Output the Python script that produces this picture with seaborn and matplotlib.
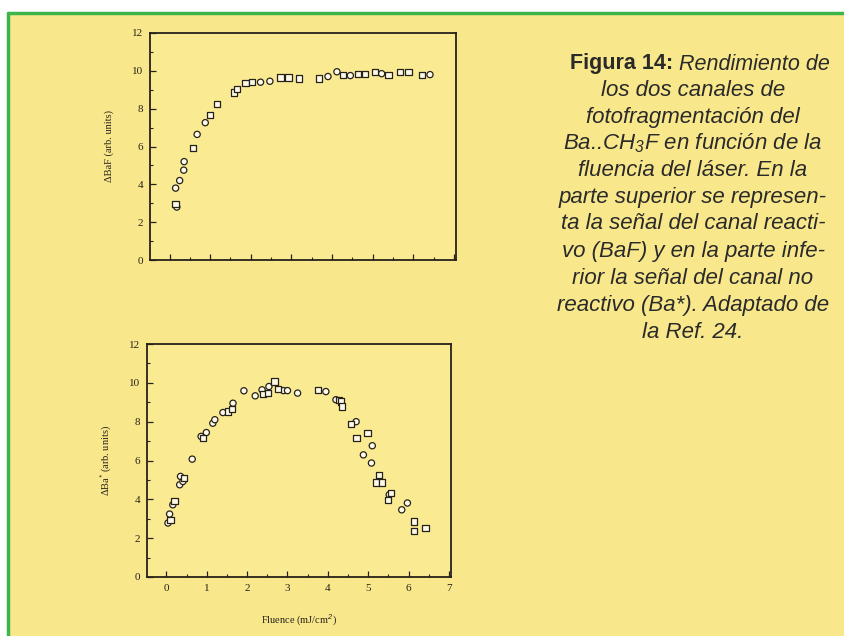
import matplotlib
matplotlib.use("Agg")
import matplotlib.pyplot as plt
import seaborn as sns
import pandas as pd
from matplotlib.patches import Rectangle
from matplotlib.offsetbox import TextArea, HPacker, AnnotationBbox

# ---------------- data ----------------
# Upper panel: reactive channel (BaF)
baf_circle_x = [0.18, 0.15, 0.25, 0.35, 0.36, 0.68, 0.88, 2.24, 2.47, 3.90, 4.12, 4.45, 5.22, 6.41]
baf_circle_y = [2.80, 3.80, 4.20, 4.75, 5.20, 6.64, 7.26, 9.40, 9.45, 9.70, 9.95, 9.75, 9.85, 9.80]
baf_cross_x = [0.15, 0.58, 1.00, 1.17, 1.58, 1.66, 1.87, 2.03, 2.73, 2.93, 3.18, 3.67, 4.27, 4.63, 4.82, 5.06, 5.39, 5.67, 5.88, 6.21]
baf_cross_y = [2.95, 5.90, 7.66, 8.25, 8.85, 9.05, 9.34, 9.40, 9.65, 9.65, 9.60, 9.60, 9.80, 9.85, 9.85, 9.95, 9.80, 9.95, 9.95, 9.80]

# Lower panel: non-reactive channel (Ba*)
ba_circle_x = [0.04, 0.08, 0.16, 0.33, 0.35, 0.41, 0.64, 0.86, 0.99, 1.15, 1.20, 1.40, 1.65, 1.92, 2.20, 2.37, 2.54, 2.90, 3.00, 3.25, 3.95, 4.20, 4.70, 5.10, 4.88, 5.08, 5.52, 5.83, 5.97]
ba_circle_y = [2.78, 3.24, 3.72, 4.75, 5.18, 4.92, 6.07, 7.24, 7.44, 7.92, 8.10, 8.47, 8.95, 9.59, 9.33, 9.64, 9.81, 9.60, 9.60, 9.47, 9.55, 9.13, 8.00, 6.76, 6.29, 5.87, 4.24, 3.46, 3.81]
ba_cross_x = [0.20, 0.10, 0.43, 0.90, 1.52, 1.63, 2.40, 2.51, 2.68, 2.76, 3.75, 4.28, 4.32, 4.35, 4.57, 4.71, 4.98, 5.27, 5.19, 5.34, 5.48, 5.56, 6.14, 6.14, 6.42]
ba_cross_y = [3.90, 2.95, 5.10, 7.15, 8.52, 8.64, 9.43, 9.47, 10.07, 9.67, 9.64, 9.13, 9.04, 8.78, 7.89, 7.15, 7.41, 5.27, 4.87, 4.87, 3.98, 4.32, 2.86, 2.35, 2.52]

x_ticks = [0, 1, 2, 3, 4, 5, 6, 7]
y_ticks = [0, 2, 4, 6, 8, 10, 12]

caption_bold = "Figura 14:"
caption_first = " Rendimiento de"
caption_lines = [
    "los dos canales de",
    "fotofragmentación del",
    r"Ba..CH$_3$F en función de la",
    "fluencia del láser. En la",
    "parte superior se represen-",
    "ta la señal del canal reacti-",
    "vo (BaF) y en la parte infe-",
    "rior la señal del canal no",
    "reactivo (Ba*). Adaptado de",
    "la Ref. 24.",
]

# ---------------- build frames ----------------
def frame(cx, cy, sx, sy):
    return pd.DataFrame({
        "x": list(cx) + list(sx),
        "y": list(cy) + list(sy),
        "kind": ["circle"] * len(cx) + ["cross"] * len(sx),
    })

df_top = frame(baf_circle_x, baf_circle_y, baf_cross_x, baf_cross_y)
df_bot = frame(ba_circle_x, ba_circle_y, ba_cross_x, ba_cross_y)

# ---------------- style ----------------
sns.set_theme(style="ticks")
plt.rcParams["font.family"] = ["Liberation Serif", "DejaVu Serif"]
plt.rcParams["mathtext.fontset"] = "custom"
plt.rcParams["mathtext.it"] = "Liberation Sans:italic"
plt.rcParams["mathtext.rm"] = "Liberation Sans:italic"

YELLOW = "#F9E88B"
AX_YELLOW = "#FAEB92"
GREEN = "#3DB54A"
INK = "#26221A"
TXT = "#2a2a2a"
FS = 16

fig = plt.figure(figsize=(8.44, 6.36), dpi=100, facecolor="white")

# yellow panel with green border
fig.patches.append(Rectangle((8 / 844, 0), 1.0, 1 - 13 / 636, transform=fig.transFigure,
                             facecolor=YELLOW, edgecolor="none", zorder=-5))
fig.lines.append(plt.Line2D([8 / 844, 1.0], [1 - 13 / 636, 1 - 13 / 636], transform=fig.transFigure,
                            color=GREEN, lw=2.5, zorder=-4))
fig.lines.append(plt.Line2D([8 / 844, 8 / 844], [0, 1 - 13 / 636], transform=fig.transFigure,
                            color=GREEN, lw=2.5, zorder=-4))

ax1 = fig.add_axes([150 / 844, 1 - 260 / 636, 306 / 844, 227 / 636], zorder=2)
ax2 = fig.add_axes([147 / 844, 1 - 577 / 636, 304 / 844, 233 / 636], zorder=2)

markers = {"circle": "o", "cross": "s"}
for ax, df in [(ax1, df_top), (ax2, df_bot)]:
    ax.set_facecolor(AX_YELLOW)
    sns.scatterplot(data=df, x="x", y="y", style="kind", markers=markers,
                    color="#FFFBE8", edgecolor=INK, linewidth=0.9, s=20,
                    legend=False, ax=ax, zorder=3)
    ax.set_xlim(-0.48, 7.05)
    ax.set_ylim(0, 12)
    ax.set_xticks(x_ticks)
    ax.set_yticks(y_ticks)
    ax.set_xticks([t + 0.5 for t in x_ticks[:-1]], minor=True)
    ax.set_yticks([t + 1 for t in y_ticks[:-1]], minor=True)
    ax.tick_params(direction="in", length=4, width=0.9, colors=INK, labelsize=8, pad=5)
    ax.tick_params(which="minor", direction="in", length=2, width=0.8, colors=INK)
    for sp in ax.spines.values():
        sp.set_linewidth(1.3)
        sp.set_color(INK)
    ax.set_xlabel("")

ax1.set_xticklabels([])
ax1.set_ylabel("ΔBaF (arb. units)", fontsize=7.5, color=INK, labelpad=13)
ax2.set_ylabel("ΔBa$^{*}$ (arb. units)", fontsize=7.5, color=INK, labelpad=11)
ax2.set_xlabel("Fluence (mJ/cm$^{2}$)", fontsize=7.5, color=INK, labelpad=14)

# caption
cx = 693 / 844
bold = TextArea(caption_bold, textprops=dict(fontsize=15.5, family="Liberation Sans",
                                              weight="bold", color=TXT))
ital = TextArea(caption_first, textprops=dict(fontsize=15.5, family="Liberation Sans",
                                               style="italic", color=TXT))
pack = HPacker(children=[bold, ital], align="baseline", pad=0, sep=0)
ab = AnnotationBbox(pack, (700 / 844, 1 - 64 / 636), xycoords="figure fraction",
                    frameon=False, box_alignment=(0.5, 0.5), zorder=5)
fig.add_artist(ab)

ys = [90, 117, 143, 171, 197, 224, 251, 278, 305, 332]
for line, y in zip(caption_lines, ys):
    fig.text(cx, 1 - y / 636, line, ha="center", va="center", fontsize=FS,
             family="Liberation Sans", style="italic", color=TXT)

fig.savefig("out.png", dpi=100, facecolor=fig.get_facecolor())
